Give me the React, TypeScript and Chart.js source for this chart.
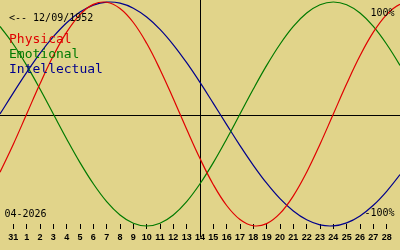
import React, { useEffect, useRef } from "react";
import { Chart, registerables } from "chart.js";

Chart.register(...registerables);

// Birth date / month shown in the chart
const birthLabel = "<-- 12/09/1952";
const monthLabel = "04-2026";
const topLabel = "100%";
const bottomLabel = "-100%";
const todayDay = 14;

// Day positions (0 = March 31)
const days = [-1, 0, 1, 2, 3, 4, 5, 6, 7, 8, 9, 10, 11, 12, 13, 14, 15, 16, 17, 18, 19, 20, 21, 22, 23, 24, 25, 26, 27, 28, 29, 30];

const physical = [-0.52, -0.27, 0, 0.27, 0.52, 0.731, 0.888, 0.979, 0.998, 0.942, 0.817, 0.631, 0.398, 0.136, -0.136, -0.398, -0.631, -0.817, -0.942, -0.998, -0.979, -0.888, -0.731, -0.52, -0.27, 0, 0.27, 0.52, 0.731, 0.888, 0.979, 0.998];

const emotional = [0.782, 0.623, 0.434, 0.223, 0, -0.223, -0.434, -0.623, -0.782, -0.901, -0.975, -1, -0.975, -0.901, -0.782, -0.623, -0.434, -0.223, 0, 0.223, 0.434, 0.623, 0.782, 0.901, 0.975, 1, 0.975, 0.901, 0.782, 0.623, 0.434, 0.223];

const intellectual = [0, 0.189, 0.372, 0.541, 0.69, 0.815, 0.91, 0.972, 0.999, 0.99, 0.945, 0.866, 0.756, 0.618, 0.458, 0.282, 0.095, -0.095, -0.282, -0.458, -0.618, -0.756, -0.866, -0.945, -0.99, -0.999, -0.972, -0.91, -0.815, -0.69, -0.541, -0.372];

const tickDays = [0, 1, 2, 3, 4, 5, 6, 7, 8, 9, 10, 11, 12, 13, 14, 15, 16, 17, 18, 19, 20, 21, 22, 23, 24, 25, 26, 27, 28];
const tickLabels = ["31", "1", "2", "3", "4", "5", "6", "7", "8", "9", "10", "11", "12", "13", "14", "15", "16", "17", "18", "19", "20", "21", "22", "23", "24", "25", "26", "27", "28"];

const seriesNames = ["Physical", "Emotional", "Intellectual"];
const seriesColors = ["#e00000", "#007a00", "#00008c"];

const BG = "#e1d48a";
const MONO = "'DejaVu Sans Mono', 'Liberation Mono', monospace";
const TICKFONT = "'Liberation Sans', Arial, sans-serif";

const overlayPlugin = {
  id: "overlay",
  beforeDatasetsDraw(chart: any) {
    const ctx = chart.ctx;
    const xs = chart.scales.x;
    const ys = chart.scales.y;
    ctx.save();
    ctx.strokeStyle = "#000";
    ctx.lineWidth = 1;
    const y0 = Math.round(ys.getPixelForValue(0)) + 1.5;
    ctx.beginPath();
    ctx.moveTo(0, y0);
    ctx.lineTo(chart.width, y0);
    ctx.stroke();
    const xt = Math.round(xs.getPixelForValue(todayDay)) + 0.5;
    ctx.beginPath();
    ctx.moveTo(xt, 0);
    ctx.lineTo(xt, 237);
    ctx.stroke();
    ctx.restore();
  },
  afterDraw(chart: any) {
    const ctx = chart.ctx;
    ctx.save();
    ctx.textBaseline = "alphabetic";
    ctx.font = `10px ${MONO}`;
    ctx.fillStyle = "#000";
    ctx.textAlign = "left";
    ctx.fillText(birthLabel, 9, 21);
    ctx.fillText(monthLabel, 4.5, 217);
    ctx.textAlign = "right";
    ctx.fillText(topLabel, 394.5, 16);
    ctx.fillText(bottomLabel, 394.5, 216);
    ctx.textAlign = "left";
    ctx.font = `13px ${MONO}`;
    chart.data.datasets.forEach((ds: any, i: number) => {
      ctx.fillStyle = ds.borderColor;
      ctx.fillText(ds.label, 9, 43 + i * 15);
    });
    ctx.restore();
  },
};

export default function App() {
  const canvasRef = useRef<HTMLCanvasElement | null>(null);

  useEffect(() => {
    document.body.style.margin = "0";
    const canvas = canvasRef.current;
    if (!canvas) return;
    const seriesValues = [physical, emotional, intellectual];
    const chart = new Chart(canvas, {
      type: "line",
      data: {
        datasets: seriesValues.map((vals, i) => ({
          label: seriesNames[i],
          data: days.map((d, j) => ({ x: d, y: vals[j] })),
          borderColor: seriesColors[i],
          backgroundColor: seriesColors[i],
          borderWidth: 1.2,
          pointRadius: 0,
          tension: 0.4,
          fill: false,
          clip: false,
        })),
      },
      options: {
        animation: false,
        responsive: false,
        devicePixelRatio: 1,
        layout: { padding: 0 },
        plugins: {
          legend: { display: false },
          tooltip: { enabled: false },
          title: { display: false },
        },
        scales: {
          x: {
            type: "linear",
            min: -1,
            max: 29,
            afterBuildTicks: (scale: any) => {
              scale.ticks = tickDays.map((v) => ({ value: v }));
            },
            afterFit: (scale: any) => {
              scale.height = 26;
            },
            grid: {
              display: true,
              drawOnChartArea: false,
              drawTicks: true,
              tickLength: 5,
              color: "#000",
              lineWidth: 1,
            },
            border: { display: false },
            ticks: {
              autoSkip: false,
              maxRotation: 0,
              padding: 3,
              color: "#000",
              font: { family: TICKFONT, size: 9, weight: "bold" },
              callback: (_v: any, index: number) => tickLabels[index],
            },
          },
          y: {
            display: false,
            min: -0.98214,
            max: 1.01786,
          },
        },
      },
      plugins: [overlayPlugin],
    } as any);
    return () => chart.destroy();
  }, []);

  return (
    <div style={{ width: 400, height: 250, background: BG }}>
      <canvas ref={canvasRef} width={400} height={250} />
    </div>
  );
}
